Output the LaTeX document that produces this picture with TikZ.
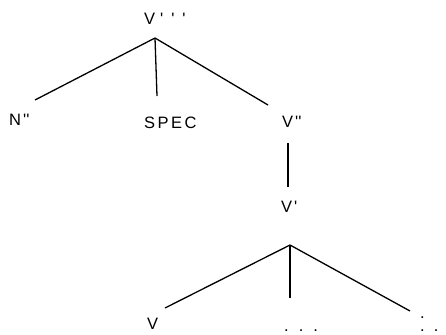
\documentclass[tikz,border=0pt]{standalone}
\usepackage{fontspec}
\setmainfont{Liberation Sans}
\begin{document}
\begin{tikzpicture}[x=1pt,y=-1pt,
    lbl/.style={inner sep=0pt, anchor=base west, font=\fontsize{16.5}{19}\selectfont},
    branch/.style={line width=1.3pt}
]
    \useasboundingbox (0,0) rectangle (446,334);
    % category labels
    \node[lbl] (vmax) at (144,25) {V\hspace{5pt}\textquotesingle\hspace{8pt}\textquotesingle\hspace{8pt}\textquotesingle};
    \node[lbl] (nbar) at (9,125) {N\hspace{2pt}\textquotesingle\textquotesingle};
    \node[lbl] (spec) at (144,128) {\addfontfeature{LetterSpace=15}SPEC};
    \node[lbl] (vbarbar) at (282,127) {V\hspace{2pt}\textquotesingle\textquotesingle};
    \node[lbl] (vbar) at (281,212) {V\hspace{2pt}\textquotesingle};
    \node[lbl] (verb) at (147,329) {V};
    \node[lbl] (dots) at (284,331) {.\hspace{10pt}.\hspace{10pt}.};
    \node[lbl] (cut) at (420,331.5) {\rlap{\raisebox{13pt}{.}}.\hspace{9pt}.};
    % branching points and branch ends
    \coordinate (vmax-root) at (155,38);
    \coordinate (nbar-top) at (35,100);
    \coordinate (spec-top) at (157,96);
    \coordinate (vbarbar-top) at (268,105);
    \coordinate (vbarbar-low) at (288,143);
    \coordinate (vbar-top) at (288,187);
    \coordinate (vbar-root) at (290,245);
    \coordinate (verb-top) at (165,308);
    \coordinate (dots-top) at (290,298);
    \coordinate (cut-top) at (410,311);
    % branches
    \draw[branch] (vmax-root) -- (nbar-top);
    \draw[branch] (vmax-root) -- (spec-top);
    \draw[branch] (vmax-root) -- (vbarbar-top);
    \draw[branch] (vbarbar-low) -- (vbar-top);
    \draw[branch] (vbar-root) -- (verb-top);
    \draw[branch] (vbar-root) -- (dots-top);
    \draw[branch] (vbar-root) -- (cut-top);
\end{tikzpicture}
\end{document}
